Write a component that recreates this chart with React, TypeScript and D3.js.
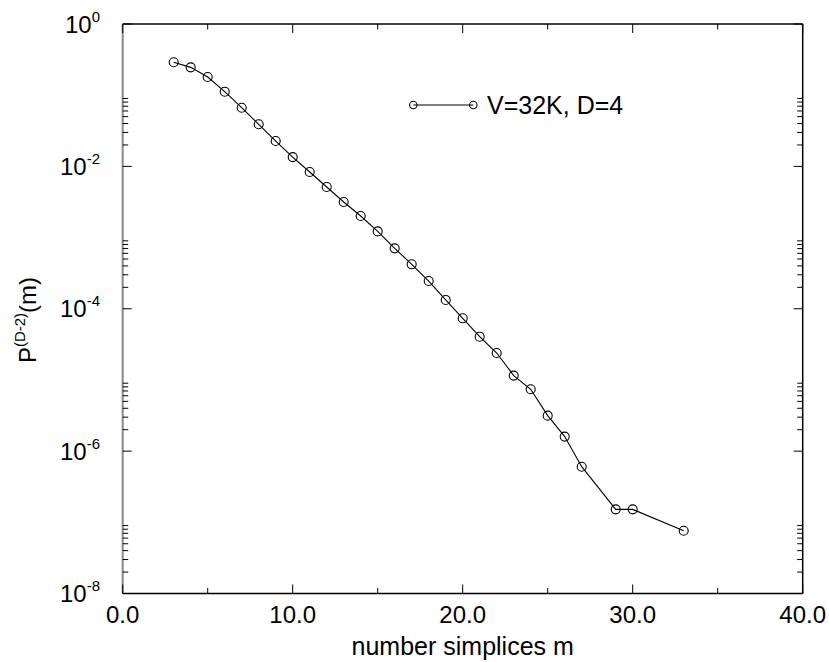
import React from "react";
import * as d3 from "d3";

const mValues = [3, 4, 5, 6, 7, 8, 9, 10, 11, 12, 13, 14, 15, 16, 17, 18, 19, 20, 21, 22, 23, 24, 25, 26, 27, 29, 30, 33];
const pValues = [
  0.29, 0.246, 0.18, 0.112, 0.0667, 0.039, 0.0227, 0.0135, 0.00834, 0.00513,
  0.00316, 0.00201, 0.00122, 7.06e-4, 4.21e-4, 2.45e-4, 1.33e-4, 7.34e-5, 4.05e-5, 2.39e-5,
  1.15e-5, 7.39e-6, 3.15e-6, 1.6e-6, 6.04e-7, 1.52e-7, 1.52e-7, 7.62e-8,
];
const xMajorTicks = [0, 10, 20, 30, 40];
const xMinorTicks = [5, 15, 25, 35];
const yMajorExponents = [0, -2, -4, -6, -8];
const seriesLabel = "V=32K, D=4";
const xTitle = "number simplices m";

const W = 829;
const H = 662;
const L = 122.7, R = 802.7, T = 24, B = 593.5;

export default function App() {
  const x = d3.scaleLinear().domain([0, 40]).range([L, R]);
  const y = d3.scaleLog().domain([1e-8, 1]).range([B, T]);
  const data = mValues.map((m, i) => ({ m, p: pValues[i] }));
  const line = d3.line<{ m: number; p: number }>().x((d) => x(d.m)).y((d) => y(d.p));

  const yMinor: number[] = [];
  yMajorExponents.filter((e) => e < 0).forEach((e) => {
    for (let k = 2; k <= 9; k++) yMinor.push(k * Math.pow(10, e));
  });

  const font = "'Liberation Sans', Arial, sans-serif";
  const majLen = 9, minLen = 5.5;

  return (
    <svg width={W} height={H} style={{ position: "absolute", left: 0, top: 0, background: "#fff" }} fontFamily={font}>
      <rect x={0} y={0} width={W} height={H} fill="#fff" />
      {/* frame */}
      <line x1={L} x2={R} y1={T} y2={T} stroke="#000" strokeWidth={1.5} />
      <line x1={L} x2={R} y1={B} y2={B} stroke="#000" strokeWidth={1.5} />
      <line x1={R} x2={R} y1={T} y2={B} stroke="#000" strokeWidth={1.5} />
      <line x1={L} x2={L} y1={T} y2={B} stroke="#888" strokeWidth={2} />
      {/* x ticks */}
      {xMajorTicks.map((t) => (
        <g key={"xm" + t}>
          <line x1={x(t)} x2={x(t)} y1={B} y2={B - majLen} stroke="#000" strokeWidth={1} />
          <line x1={x(t)} x2={x(t)} y1={T} y2={T + majLen} stroke="#000" strokeWidth={1} />
          <text x={x(t)} y={623} textAnchor="middle" fontSize={24}>{t.toFixed(1)}</text>
        </g>
      ))}
      {xMinorTicks.map((t) => (
        <g key={"xn" + t}>
          <line x1={x(t)} x2={x(t)} y1={B} y2={B - minLen} stroke="#000" strokeWidth={1} />
          <line x1={x(t)} x2={x(t)} y1={T} y2={T + minLen} stroke="#000" strokeWidth={1} />
        </g>
      ))}
      {/* y ticks */}
      {yMajorExponents.map((e) => {
        const v = Math.pow(10, e);
        return (
          <g key={"ym" + e}>
            <line x1={L} x2={L + majLen} y1={y(v)} y2={y(v)} stroke="#000" strokeWidth={1} />
            <line x1={R} x2={R - majLen} y1={y(v)} y2={y(v)} stroke="#000" strokeWidth={1} />
            <text x={100} y={y(v) + 8.5} textAnchor="end" fontSize={24}>
              10<tspan fontSize={15} dy={-11}>{e === 0 ? "0" : String(e)}</tspan>
            </text>
          </g>
        );
      })}
      {yMinor.map((v, i) => (
        <g key={"yn" + i}>
          <line x1={L} x2={L + minLen} y1={y(v)} y2={y(v)} stroke="#000" strokeWidth={1} />
          <line x1={R} x2={R - minLen} y1={y(v)} y2={y(v)} stroke="#000" strokeWidth={1} />
        </g>
      ))}
      {/* series */}
      <path d={line(data) || ""} fill="none" stroke="#000" strokeWidth={1.1} />
      {data.map((d, i) => (
        <circle key={i} cx={x(d.m)} cy={y(d.p)} r={4.5} fill="none" stroke="#000" strokeWidth={1.1} />
      ))}
      {/* legend */}
      <line x1={413.3} x2={473.3} y1={105} y2={105} stroke="#000" strokeWidth={1.1} />
      <circle cx={413.3} cy={105} r={3.7} fill="none" stroke="#000" strokeWidth={1.1} />
      <circle cx={473.3} cy={105} r={3.7} fill="none" stroke="#000" strokeWidth={1.1} />
      <text x={487} y={114} fontSize={25}>{seriesLabel}</text>
      {/* axis titles */}
      <text x={(L + R) / 2} y={655} textAnchor="middle" fontSize={25}>{xTitle}</text>
      <text transform="translate(36,320) rotate(-90)" textAnchor="middle" fontSize={24}>
        P<tspan fontSize={15} dy={-11}>(D-2)</tspan><tspan dy={11}>(m)</tspan>
      </text>
    </svg>
  );
}
